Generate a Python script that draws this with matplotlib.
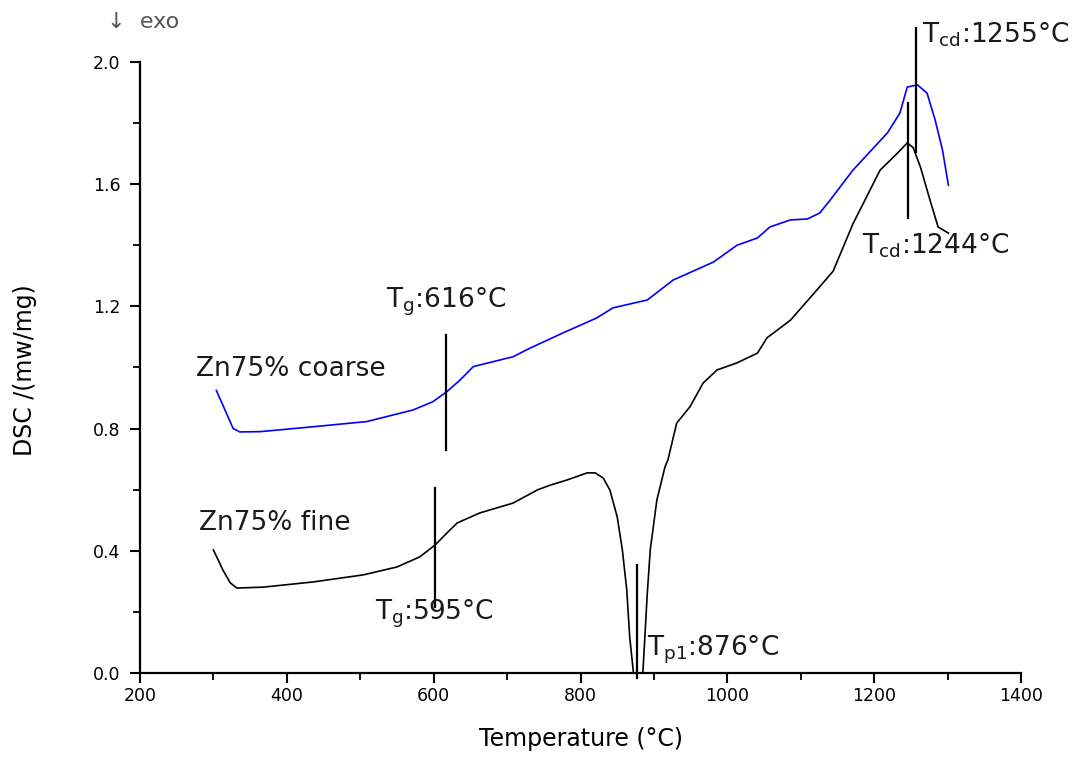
import numpy as np
import matplotlib
matplotlib.use('Agg')
import matplotlib.pyplot as plt
from matplotlib.ticker import MultipleLocator

plt.rcParams['font.family'] = ['DejaVu Sans']
plt.rcParams['mathtext.fontset'] = 'dejavusans'

# Zn75% coarse (blue)
coarse_t = [304, 316, 327, 336, 364, 436, 509, 572, 599, 618, 636, 654, 708, 731,
            776, 822, 844, 891, 926, 981, 1013, 1041, 1058, 1086, 1109, 1126, 1140,
            1171, 1218, 1235, 1245, 1259, 1272, 1283, 1293, 1301]
coarse_dsc = [0.925, 0.860, 0.800, 0.789, 0.790, 0.806, 0.823, 0.861, 0.888, 0.921,
              0.959, 1.003, 1.035, 1.063, 1.113, 1.162, 1.195, 1.221, 1.286, 1.345,
              1.400, 1.424, 1.460, 1.483, 1.486, 1.506, 1.548, 1.646, 1.768, 1.833,
              1.918, 1.925, 1.898, 1.810, 1.712, 1.597]

# Zn75% fine (black)
fine_t = [300, 313, 323, 332, 368, 436, 504, 550, 581, 602, 618, 632, 663, 708, 742,
          759, 782, 809, 820, 831, 840, 850, 857, 863, 867, 872, 878, 885, 891, 895,
          904, 915, 919, 931, 949, 967, 986, 1013, 1041, 1054, 1086, 1117, 1144, 1171,
          1208, 1231, 1245, 1253, 1263, 1276, 1287, 1301]
fine_dsc = [0.403, 0.337, 0.295, 0.278, 0.281, 0.298, 0.321, 0.347, 0.380, 0.419,
            0.458, 0.491, 0.524, 0.556, 0.600, 0.615, 0.632, 0.655, 0.655, 0.638,
            0.599, 0.511, 0.403, 0.272, 0.118, 0.003, -0.010, 0.003, 0.262, 0.403,
            0.566, 0.674, 0.697, 0.818, 0.871, 0.949, 0.992, 1.015, 1.047, 1.097,
            1.155, 1.240, 1.315, 1.470, 1.646, 1.700, 1.735, 1.720, 1.656, 1.548,
            1.460, 1.440]

# marker lines: x, y bottom, y top
mark_x = [617, 602, 877, 1246, 1257]
mark_y0 = [0.730, 0.215, -0.016, 1.489, 1.705]
mark_y1 = [1.106, 0.605, 0.354, 1.866, 2.110]

# annotation texts and anchor points (left, centre)
ann_text = [r'T$_{\mathregular{g}}$:616°C', r'T$_{\mathregular{g}}$:595°C',
            r'T$_{\mathregular{p1}}$:876°C', r'T$_{\mathregular{cd}}$:1255°C',
            r'T$_{\mathregular{cd}}$:1244°C']
ann_x = [535, 520, 890, 1265, 1184]
ann_y = [1.215, 0.195, 0.075, 2.09, 1.40]

fig = plt.figure(figsize=(10.79, 7.73), dpi=100)
ax = fig.add_axes([0.1297, 0.1294, 0.8166, 0.7904])

ax.plot(coarse_t, coarse_dsc, color='#0000ff', linewidth=1.2)
ax.plot(fine_t, fine_dsc, color='black', linewidth=1.2)

for x, y0, y1 in zip(mark_x, mark_y0, mark_y1):
    ax.plot([x, x], [y0, y1], color='black', linewidth=1.6, clip_on=False)

for s, x, y in zip(ann_text, ann_x, ann_y):
    ax.text(x, y, s, fontsize=19, ha='left', va='center', color='#1a1a1a')

ax.text(276, 0.995, 'Zn75% coarse', fontsize=19, ha='left', va='center', color='#1a1a1a')
ax.text(280, 0.49, 'Zn75% fine', fontsize=19, ha='left', va='center', color='#1a1a1a')

ax.set_xlim(200, 1400)
ax.set_ylim(0, 2.0)
ax.xaxis.set_major_locator(MultipleLocator(200))
ax.xaxis.set_minor_locator(MultipleLocator(100))
ax.yaxis.set_major_locator(MultipleLocator(0.4))
ax.yaxis.set_minor_locator(MultipleLocator(0.2))
ax.yaxis.set_major_formatter(plt.FuncFormatter(lambda v, p: f'{v:.1f}'))

for side in ['top', 'right']:
    ax.spines[side].set_visible(False)
for side in ['left', 'bottom']:
    ax.spines[side].set_linewidth(1.6)

ax.tick_params(which='major', direction='out', length=7, width=1.5, labelsize=12.5)
ax.tick_params(axis='x', which='major', pad=3)
ax.tick_params(axis='y', which='major', pad=7)
ax.tick_params(which='minor', direction='out', length=5, width=1.3)

ax.set_xlabel('Temperature (°C)', fontsize=17, labelpad=16)
fig.text(25 / 1079, 1 - 370 / 773, 'DSC /(mw/mg)', rotation=90, fontsize=17,
         ha='center', va='center')
fig.text(107 / 1079, 1 - 22 / 773, '↓  exo', fontsize=16, ha='left', va='center',
         color='#555555')

plt.savefig('out.png', dpi=100)
